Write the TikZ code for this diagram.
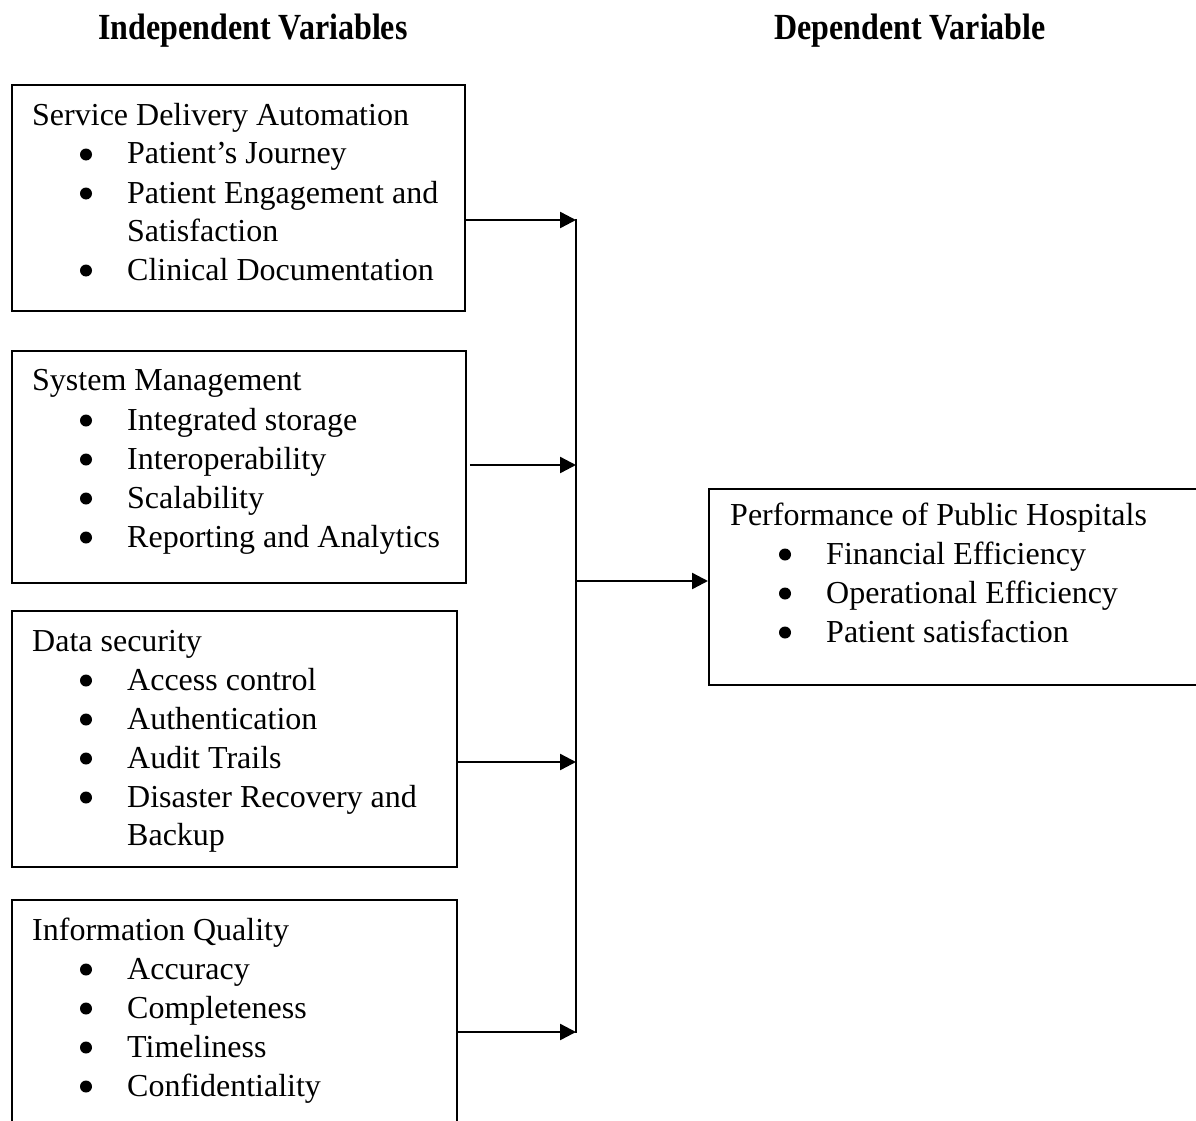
\documentclass[tikz,border=0pt]{standalone}
\usepackage{fontspec}
\usepackage{graphicx}
\setmainfont{Liberation Serif}
\usetikzlibrary{arrows.meta}
\newcommand\mybodyfont{\fontsize{32}{39}\selectfont}
\newcommand\myheadfont{\fontsize{32}{38}\selectfont\bfseries}
\tikzset{
  box/.style={draw, line width=1.8pt, anchor=north west, inner sep=0pt},
  txt/.style={anchor=base west, inner sep=0pt, font=\mybodyfont},
  bul/.style={circle, fill, inner sep=0pt, minimum size=12pt, yshift=9.5pt},
  head/.style={anchor=base, inner sep=0pt, font=\myheadfont},
  conn/.style={line width=2.4pt},
  arr/.style={line width=2.4pt, -{Triangle[length=16pt,width=16pt]}}
}
\begin{document}
\begin{tikzpicture}[x=1pt,y=1pt]
\useasboundingbox (0,0) rectangle (1196,-1121);
\clip (0,0) rectangle (1196,-1121);
\fill[white] (0,0) rectangle (1196,-1121);

% headers
\node[head] (hind) at (253,-40) {\scalebox{1}[1.15]{Independent Variables}};
\node[head] (hdep) at (910,-40) {\scalebox{1}[1.15]{Dependent Variable}};

% boxes
\node[box, minimum width=453pt, minimum height=226pt] (b1) at (11,-84) {};
\node[box, minimum width=454pt, minimum height=232pt] (b2) at (11,-350) {};
\node[box, minimum width=445pt, minimum height=256pt] (b3) at (11,-610) {};
\node[box, minimum width=445pt, minimum height=250pt] (b4) at (11,-899) {};
\node[box, minimum width=510pt, minimum height=196pt] (b5) at (708,-488) {};

% box 1 text
\node[txt] (t1a) at (32,-125) {Service Delivery Automation};
\node[bul] (u1b) at (86,-164) {};
\node[txt] (t1b) at (127,-164) {Patient’s Journey};
\node[bul] (u1c) at (86,-203) {};
\node[txt] (t1c) at (127,-203) {Patient Engagement and};
\node[txt] (t1d) at (127,-241) {Satisfaction};
\node[bul] (u1e) at (86,-280) {};
\node[txt] (t1e) at (127,-280) {Clinical Documentation};

% box 2 text
\node[txt] (t2a) at (32,-390) {System Management};
\node[bul] (u2b) at (86,-430) {};
\node[txt] (t2b) at (127,-430) {Integrated storage};
\node[bul] (u2c) at (86,-469) {};
\node[txt] (t2c) at (127,-469) {Interoperability};
\node[bul] (u2d) at (86,-508) {};
\node[txt] (t2d) at (127,-508) {Scalability};
\node[bul] (u2e) at (86,-547) {};
\node[txt] (t2e) at (127,-547) {Reporting and Analytics};

% box 3 text
\node[txt] (t3a) at (32,-651) {Data security};
\node[bul] (u3b) at (86,-690) {};
\node[txt] (t3b) at (127,-690) {Access control};
\node[bul] (u3c) at (86,-729) {};
\node[txt] (t3c) at (127,-729) {Authentication};
\node[bul] (u3d) at (86,-768) {};
\node[txt] (t3d) at (127,-768) {Audit Trails};
\node[bul] (u3e) at (86,-807) {};
\node[txt] (t3e) at (127,-807) {Disaster Recovery and};
\node[txt] (t3f) at (127,-845) {Backup};

% box 4 text
\node[txt] (t4a) at (32,-940) {Information Quality};
\node[bul] (u4b) at (86,-979) {};
\node[txt] (t4b) at (127,-979) {Accuracy};
\node[bul] (u4c) at (86,-1018) {};
\node[txt] (t4c) at (127,-1018) {Completeness};
\node[bul] (u4d) at (86,-1057) {};
\node[txt] (t4d) at (127,-1057) {Timeliness};
\node[bul] (u4e) at (86,-1096) {};
\node[txt] (t4e) at (127,-1096) {Confidentiality};

% right box text
\node[txt] (t5a) at (730,-525) {Performance of Public Hospitals};
\node[bul] (u5b) at (785,-564) {};
\node[txt] (t5b) at (826,-564) {Financial Efficiency};
\node[bul] (u5c) at (785,-603) {};
\node[txt] (t5c) at (826,-603) {Operational Efficiency};
\node[bul] (u5d) at (785,-642) {};
\node[txt] (t5d) at (826,-642) {Patient satisfaction};

% connectors
\coordinate (j1) at (576,-220);
\coordinate (j2) at (576,-465);
\coordinate (j3) at (576,-762);
\coordinate (j4) at (576,-1032);
\coordinate (jm) at (576,-581);
\draw[conn] ([yshift=1.2pt]j1) -- ([yshift=-1.2pt]j4);
\draw[arr] (b1.east |- j1) -- (j1);
\draw[arr] ([xshift=3pt]b2.east |- j2) -- (j2);
\draw[arr] (b3.east |- j3) -- (j3);
\draw[arr] (b4.east |- j4) -- (j4);
\draw[arr] (jm) -- (b5.west |- jm);
\end{tikzpicture}
\end{document}
